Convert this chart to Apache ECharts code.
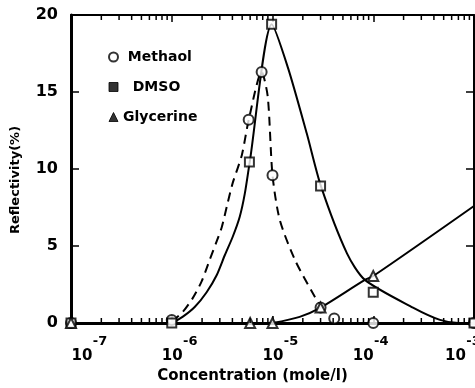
<!DOCTYPE html>
<html>
<head>
<meta charset="utf-8">
<script src="https://cdn.jsdelivr.net/npm/echarts@6/dist/echarts.min.js"></script>
<style>
html,body{margin:0;padding:0;background:#fff;}
#chart{width:475px;height:388px;}
</style>
</head>
<body>
<div id="chart"></div>
<script>
// ---- measured markers ----
const methanolConc = [1e-7, 1e-6, 5.8e-6, 7.8e-6, 1.0e-5, 3.0e-5, 4.1e-5, 1e-4, 1e-3];
const methanolRefl = [0, 0.2, 13.2, 16.3, 9.6, 1.0, 0.3, 0, 0];
const dmsoConc = [1e-7, 1e-6, 5.9e-6, 9.8e-6, 3.0e-5, 1e-4, 1e-3];
const dmsoRefl = [0, 0, 10.45, 19.4, 8.9, 2.0, 0];
const glyConc = [1e-7, 6.0e-6, 1.0e-5, 3.0e-5, 1e-4];
const glyRefl = [0, 0, 0, 1.0, 3.05];

// ---- fitted curves ----
const methanolFitConc = [1e-6, 1.28e-6, 1.61e-6, 1.98e-6, 2.38e-6, 2.79e-6, 3.13e-6, 3.59e-6, 4.03e-6, 4.96e-6, 5.81e-6, 7.8e-6, 8.97e-6, 1.0e-5, 1.18e-5, 1.67e-5, 2.63e-5, 3.09e-5];
const methanolFitRefl = [0.1, 0.7, 1.6, 2.7, 4.1, 5.3, 6.2, 7.8, 9.1, 10.9, 13.2, 16.3, 14.7, 9.6, 6.7, 4.1, 1.7, 1.0];
const dmsoFitConc = [1e-6, 1.28e-6, 1.69e-6, 2.22e-6, 2.79e-6, 3.36e-6, 4.03e-6, 4.73e-6, 5.31e-6, 5.94e-6, 9.84e-6, 1.42e-5, 2.19e-5, 3.02e-5, 5.5e-5, 8.26e-5, 2.48e-4, 4.6e-4, 7.0e-4, 1e-3];
const dmsoFitRefl = [0, 0.4, 1.04, 2.0, 3.1, 4.4, 5.6, 6.9, 8.4, 10.45, 19.4, 16.6, 12.3, 8.9, 4.5, 2.8, 1.0, 0.2, 0, 0];
const glyFitConc = [1.0e-5, 1.86e-5, 3.0e-5, 8.26e-5, 1e-4, 1e-3];
const glyFitRefl = [0, 0.4, 1.0, 2.8, 3.05, 7.6];

// ---- axes ----
const xTickExponents = [-7, -6, -5, -4, -3];
const yTicks = [0, 5, 10, 15, 20];
const minorTickValues = [
  2e-7,3e-7,4e-7,5e-7,6e-7,7e-7,8e-7,9e-7,
  2e-6,3e-6,4e-6,5e-6,6e-6,7e-6,8e-6,9e-6,
  2e-5,3e-5,4e-5,5e-5,6e-5,7e-5,8e-5,9e-5,
  2e-4,3e-4,4e-4,5e-4,6e-4,7e-4,8e-4,9e-4
];

const pair = (xs, ys) => xs.map((x, i) => [x, ys[i]]);
const FONT = '"DejaVu Sans", sans-serif';

// per-label horizontal nudges (the scanned figure's labels are not exactly centred)
const labelShift = {'-7': 18.5, '-6': 8, '-5': 8, '-4': -2.5, '-3': -11};
const rich = {};
xTickExponents.forEach(e => {
  const k = String(-e);
  const sh = labelShift[String(e)];
  const pl = sh > 0 ? 2 * sh : 0;
  const pr = sh < 0 ? -2 * sh : 0;
  rich['s' + k] = {fontFamily: FONT, fontWeight: 'bold', fontSize: 13, color: '#000', lineHeight: 12, width: 15, padding: [0, pr, 0, 21 + pl]};
  rich['b' + k] = {fontFamily: FONT, fontWeight: 'bold', fontSize: 15, color: '#000', lineHeight: 16, width: 21, padding: [0, 15 + pr, 0, pl]};
});

const chart = echarts.init(document.getElementById('chart'), null, {renderer: 'canvas'});

const option = {
  animation: false,
  backgroundColor: '#fff',
  grid: {left: 71, right: 1, top: 15, bottom: 65, containLabel: false, outerBoundsMode: 'none'},
  legend: {
    orient: 'vertical', left: 103, top: 45,
    itemWidth: 9, itemHeight: 9, itemGap: 16,
    textStyle: {fontFamily: FONT, fontWeight: 'bold', fontSize: 14, color: '#000'},
    formatter: n => (n === 'DMSO' ? '  ' + n : (n === 'Glycerine' ? n : ' ' + n)),
    data: [
      {name: 'Methaol', icon: 'circle', itemStyle: {color: '#fff', borderColor: '#000', borderWidth: 2}},
      {name: 'DMSO', icon: 'rect', itemStyle: {color: '#000', borderColor: '#000', borderWidth: 1}},
      {name: 'Glycerine', icon: 'triangle', itemStyle: {color: '#000', borderColor: '#000', borderWidth: 1}}
    ]
  },
  xAxis: [
    {
      type: 'log', logBase: 10, min: 1e-7, max: 1e-3, position: 'bottom',
      name: 'Concentration (mole/l)', nameLocation: 'middle', nameGap: 45,
      nameTextStyle: {fontFamily: FONT, fontWeight: 'bold', fontSize: 15, color: '#000', padding: [0, 40, 0, 0]},
      axisLine: {show: true, onZero: false, lineStyle: {color: '#000', width: 3}},
      axisTick: {show: true, inside: true, length: 7, lineStyle: {color: '#000', width: 1.5}},
      splitLine: {show: false},
      axisLabel: {
        show: true, margin: 13, showMinLabel: true, showMaxLabel: true, hideOverlap: false,
        formatter: v => {
          const e = Math.round(Math.log10(v));
          if (xTickExponents.indexOf(e) < 0) return '';
          return '{s' + (-e) + '|' + e + '}\n{b' + (-e) + '|10}';
        },
        rich: rich
      }
    },
    {
      type: 'log', logBase: 10, min: 1e-7, max: 1e-3, position: 'top',
      axisLine: {show: true, onZero: false, lineStyle: {color: '#000', width: 2}},
      axisTick: {show: true, inside: true, length: 7, lineStyle: {color: '#000', width: 1.5}},
      axisLabel: {show: false}, splitLine: {show: false}
    }
  ],
  yAxis: [
    {
      type: 'value', min: yTicks[0], max: yTicks[yTicks.length - 1], interval: 5, position: 'left',
      name: 'Reflectivity(%)', nameLocation: 'middle', nameGap: 49,
      nameTextStyle: {fontFamily: FONT, fontWeight: 'bold', fontSize: 13, color: '#000', padding: [0, 22, 0, 0]},
      axisLine: {show: true, onZero: false, lineStyle: {color: '#000', width: 3}},
      axisTick: {show: true, inside: true, length: 8, lineStyle: {color: '#000', width: 1.5}},
      axisLabel: {margin: 13, fontFamily: FONT, fontWeight: 'bold', fontSize: 16, color: '#000'},
      splitLine: {show: false}
    },
    {
      type: 'value', min: yTicks[0], max: yTicks[yTicks.length - 1], interval: 5, position: 'right',
      axisLine: {show: true, onZero: false, lineStyle: {color: '#000', width: 2}},
      axisTick: {show: true, inside: true, length: 8, lineStyle: {color: '#000', width: 1.5}},
      axisLabel: {show: false}, splitLine: {show: false}
    }
  ],
  series: [
    {
      name: 'Methaol fit', type: 'line', data: pair(methanolFitConc, methanolFitRefl),
      smooth: 0.25, symbol: 'none', clip: false, z: 3,
      lineStyle: {color: '#000', width: 2, type: [9, 6]}
    },
    {
      name: 'DMSO fit', type: 'line', data: pair(dmsoFitConc, dmsoFitRefl),
      smooth: 0.25, symbol: 'none', clip: false, z: 3,
      lineStyle: {color: '#000', width: 2}
    },
    {
      name: 'Glycerine fit', type: 'line', data: pair(glyFitConc, glyFitRefl),
      smooth: 0.3, symbol: 'none', clip: false, z: 3,
      lineStyle: {color: '#000', width: 2}
    },
    {
      name: 'Methaol', type: 'scatter', data: pair(methanolConc, methanolRefl),
      symbol: 'circle', symbolSize: 10, clip: false, z: 5,
      itemStyle: {color: '#fff', borderColor: '#000', borderWidth: 2}
    },
    {
      name: 'DMSO', type: 'scatter', data: pair(dmsoConc, dmsoRefl),
      symbol: 'rect', symbolSize: 9, clip: false, z: 5,
      itemStyle: {color: '#fff', borderColor: '#000', borderWidth: 2}
    },
    {
      name: 'Glycerine', type: 'scatter', data: pair(glyConc, glyRefl),
      symbol: 'triangle', symbolSize: 10, clip: false, z: 5,
      itemStyle: {color: '#fff', borderColor: '#000', borderWidth: 2}
    },
    {
      name: 'minor ticks', type: 'custom', data: minorTickValues.map(v => [v]),
      silent: true, clip: false, z: 6,
      encode: {x: 0},
      renderItem: (params, api) => {
        const v = api.value(0);
        const b = api.coord([v, yTicks[0]]);
        const t = api.coord([v, yTicks[yTicks.length - 1]]);
        return {
          type: 'group',
          children: [
            {type: 'line', shape: {x1: b[0], y1: b[1], x2: b[0], y2: b[1] - 5}, style: {stroke: '#000', lineWidth: 1.5}},
            {type: 'line', shape: {x1: t[0], y1: t[1], x2: t[0], y2: t[1] + 5}, style: {stroke: '#000', lineWidth: 1.5}}
          ]
        };
      }
    }
  ]
};
chart.setOption(option);
</script>
</body>
</html>
